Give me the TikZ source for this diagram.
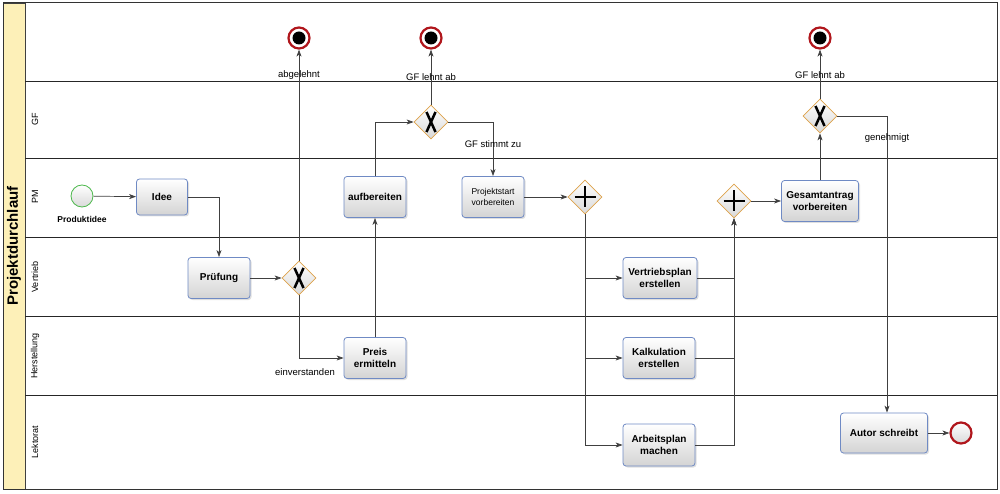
\documentclass[tikz,border=0pt]{standalone}
\usepackage{fontspec}
\setmainfont{Liberation Sans}
\usetikzlibrary{positioning,shapes.geometric,arrows.meta,shadows}

\definecolor{taskblue}{HTML}{6F8AC4}
\definecolor{gateorange}{HTML}{DDA24A}
\definecolor{endred}{HTML}{B0161C}
\definecolor{startgreen}{HTML}{4CB84C}
\definecolor{poolyellow}{HTML}{FDF0B8}

\tikzset{
  task/.style={draw=taskblue, line width=0.8pt, rounded corners=3pt,
    top color=white, bottom color=black!17, align=center,
    minimum width=62pt, minimum height=41pt, inner sep=2pt,
    font=\fontsize{10}{12.5}\selectfont\bfseries,
    drop shadow={shadow xshift=1.5pt, shadow yshift=-1.5pt, opacity=0.25}},
  gate/.style={diamond, draw=gateorange, line width=0.8pt, aspect=1,
    top color=white, bottom color=black!15,
    minimum width=34pt, minimum height=34pt, inner sep=0pt},
  xgate/.style={gate, path picture={
    \draw[black, line width=2.5pt] ([shift={(-4.5pt,10pt)}]path picture bounding box.center)
      -- ([shift={(4.5pt,-10pt)}]path picture bounding box.center);
    \draw[black, line width=2.5pt] ([shift={(4.5pt,10pt)}]path picture bounding box.center)
      -- ([shift={(-4.5pt,-10pt)}]path picture bounding box.center);}},
  pgate/.style={gate, path picture={
    \draw[black, line width=2.2pt] ([yshift=10.5pt]path picture bounding box.center)
      -- ([yshift=-10.5pt]path picture bounding box.center);
    \draw[black, line width=2.2pt] ([xshift=-10.5pt]path picture bounding box.center)
      -- ([xshift=10.5pt]path picture bounding box.center);}},
  startev/.style={circle, draw=startgreen, line width=0.8pt,
    top color=white, bottom color=black!15, minimum size=22pt, inner sep=0pt},
  endev/.style={circle, draw=endred, line width=2.2pt,
    top color=white, bottom color=black!15, minimum size=21pt, inner sep=0pt},
  termev/.style={circle, draw=endred, line width=2.2pt, fill=white,
    minimum size=21pt, inner sep=0pt,
    path picture={\fill[black] (path picture bounding box.center) circle (6.5pt);}},
  flow/.style={draw=black!75, line width=0.7pt, -{Stealth[length=7pt,width=5pt,inset=2pt]}},
  flowlabel/.style={font=\fontsize{9.5}{11}\selectfont, inner sep=1pt},
  lanelabel/.style={rotate=90, font=\fontsize{9}{10}\selectfont},
}

\begin{document}
\begin{tikzpicture}[x=1pt, y=-1pt]
  \useasboundingbox (0,0) rectangle (1000,494);

  % pool and lanes
  \filldraw[fill=poolyellow, draw=black!75, line width=0.8pt] (3,3) rectangle (25,489);
  \foreach \ly in {81,158,237,316,395}
    \draw[black!85, line width=0.8pt] (25,\ly) -- (997,\ly);
  \draw[black!80, line width=1pt] (3,3) rectangle (997,489);
  \node[rotate=90, font=\fontsize{15}{16}\selectfont\bfseries] (pool) at (14,246) {Projektdurchlauf};
  \node[lanelabel] (lgf) at (35,119) {GF};
  \node[lanelabel] (lpm) at (35,197) {PM};
  \node[lanelabel] (lvt) at (35,277) {Vertrieb};
  \node[lanelabel] (lhs) at (35,356) {Herstellung};
  \node[lanelabel] (llk) at (35,442) {Lektorat};

  % events
  \node[startev] (start) at (82,196) {};
  \node[font=\fontsize{8.5}{10}\selectfont\bfseries] (startlbl) at (82,219) {Produktidee};
  \node[termev] (end1) at (299,38) {};
  \node[termev] (end2) at (431,38) {};
  \node[termev] (end3) at (820,38) {};
  \node[endev] (end4) at (961,433) {};

  % tasks
  \node[task, minimum width=51pt, minimum height=36pt] (idee) at (162,197) {Idee};
  \node[task] (pruef) at (219,278) {Prüfung};
  \node[task] (preis) at (375,358) {Preis\\ermitteln};
  \node[task] (aufb) at (375,197) {aufbereiten};
  \node[task, font=\fontsize{8.5}{11}\selectfont] (projstart) at (493,197) {Projektstart\\vorbereiten};
  \node[task, minimum width=74pt] (vplan) at (660,278) {Vertriebsplan\\erstellen};
  \node[task, minimum width=72pt] (kalk) at (659,358) {Kalkulation\\erstellen};
  \node[task, minimum width=72pt, minimum height=42pt] (aplan) at (659,445) {Arbeitsplan\\machen};
  \node[task, minimum width=77pt] (gesamt) at (820,201) {Gesamtantrag\\vorbereiten};
  \node[task, minimum width=87pt, minimum height=40pt] (autor) at (884,433) {Autor schreibt};

  % gateways
  \node[xgate] (x1) at (299,278) {};
  \node[xgate] (x2) at (431,122) {};
  \node[xgate] (x3) at (820,116) {};
  \node[pgate] (p1) at (585,197) {};
  \node[pgate] (p2) at (734,201) {};

  % flows
  \draw[flow] (start) -- (idee);
  \draw[flow] (idee.east) -| (pruef.north);
  \draw[flow] (pruef) -- (x1);
  \draw[flow] (x1) -- (end1);
  \draw[flow] (x1.south) |- (preis.west);
  \draw[flow] (preis) -- (aufb);
  \draw[flow] (aufb.north) |- (x2.west);
  \draw[flow] (x2) -- (end2);
  \draw[flow] (x2.east) -| (projstart.north);
  \draw[flow] (projstart) -- (p1);
  \draw[flow] (p1.south) |- (vplan.west);
  \draw[flow] (p1.south) |- (kalk.west);
  \draw[flow] (p1.south) |- (aplan.west);
  \draw[flow] (vplan.east) -| (p2.south);
  \draw[flow] (kalk.east) -| (p2.south);
  \draw[flow] (aplan.east) -| (p2.south);
  \draw[flow] (p2) -- (gesamt);
  \draw[flow] (gesamt) -- (x3);
  \draw[flow] (x3) -- (end3);
  \draw[flow] (x3.east) -| ([xshift=3pt]autor.north);
  \draw[flow] (autor) -- (end4);

  % flow labels
  \node[flowlabel] (labgel) at (299,75) {abgelehnt};
  \node[flowlabel] (lgfab1) at (431,77) {GF lehnt ab};
  \node[flowlabel] (lgfzu) at (493,144) {GF stimmt zu};
  \node[flowlabel] (leinv) at (305,372) {einverstanden};
  \node[flowlabel] (lgfab2) at (820,75) {GF lehnt ab};
  \node[flowlabel] (lgen) at (887,138) {genehmigt};
\end{tikzpicture}
\end{document}
